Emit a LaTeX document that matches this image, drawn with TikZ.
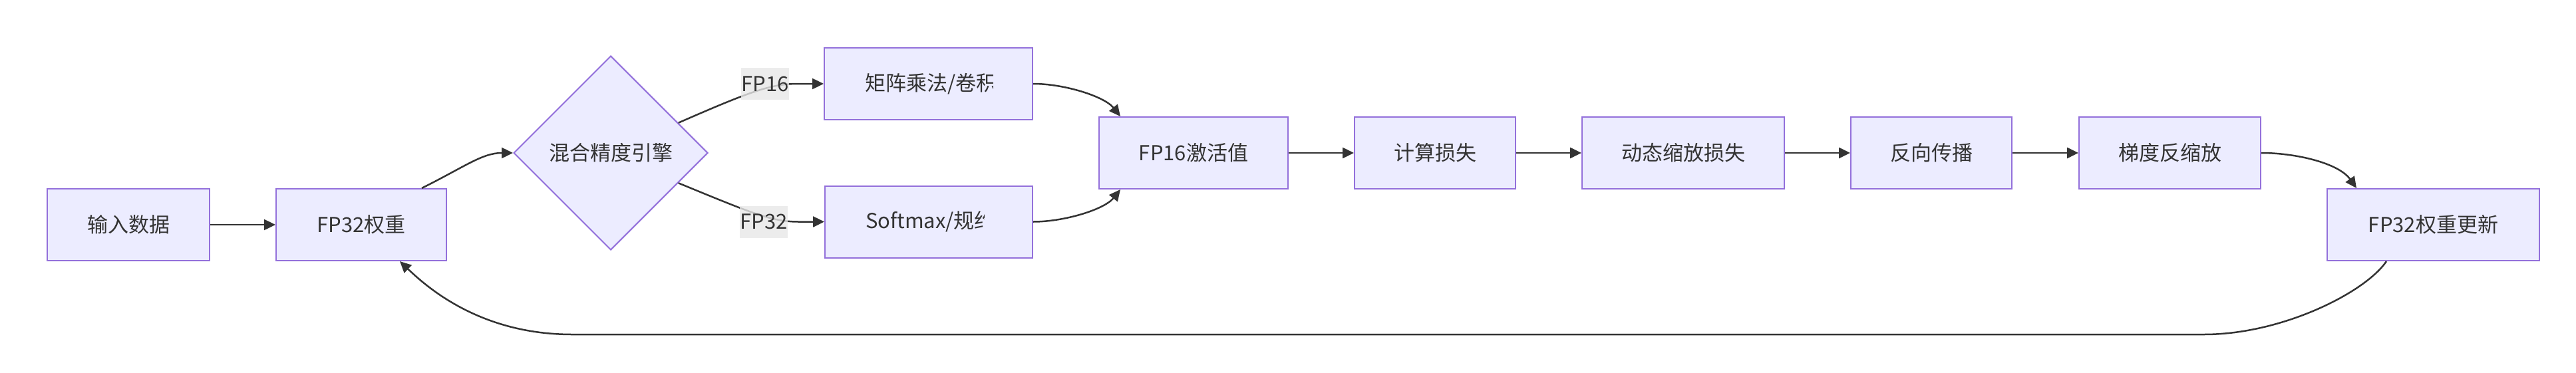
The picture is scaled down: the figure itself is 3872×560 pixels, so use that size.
\documentclass[tikz,border=0pt]{standalone}
\usepackage{fontspec}
\setmainfont{Noto Sans CJK SC}
\usetikzlibrary{arrows.meta,shapes.geometric}
\definecolor{nodefill}{HTML}{ECECFF}
\definecolor{nodeline}{HTML}{9370DB}
\definecolor{edgecol}{HTML}{333333}
\definecolor{labelbg}{HTML}{E8E8E8}
\begin{document}
\begin{tikzpicture}[x=1pt,y=-1pt,
  font=\fontsize{31pt}{37pt}\selectfont, text=edgecol,
  box/.style={draw=nodeline, fill=nodefill, line width=2pt, inner sep=0pt, minimum height=108pt},
  dia/.style={diamond, shape aspect=1, draw=nodeline, fill=nodefill, line width=2pt, inner sep=0pt, minimum width=292pt, minimum height=292pt},
  conn/.style={draw=edgecol, line width=2.5pt, -{Triangle[length=17pt,width=16pt]}},
  elabel/.style={fill=labelbg, fill opacity=0.8, text opacity=1, inner sep=0pt, minimum width=68pt, minimum height=48pt},
  txt/.style={inner sep=0pt, anchor=west}]
\fill[white] (0,0) rectangle (3872,560);
\useasboundingbox (0,0) rectangle (3872,560);

% nodes
\node[box, minimum width=244pt] (A) at (193,338) {输入数据};
\node[box, minimum width=256pt] (B) at (543,338) {FP32权重};
\node[dia] (C) at (918,230) {混合精度引擎};
\node[box, minimum width=313pt] (D) at (1395.5,126) {};
\node[box, minimum width=312pt] (E) at (1396,333.5) {};
\begin{scope}
  \clip (1240,73) rectangle (1492,179);
  \node[txt] (Dt) at (1300,126) {矩阵乘法/卷积};
\end{scope}
\begin{scope}
  \clip (1241,281) rectangle (1479,386);
  \node[txt] (Et) at (1301,333.5) {Softmax/规约};
\end{scope}
\node[box, minimum width=284pt] (F) at (1794,230) {FP16激活值};
\node[box, minimum width=242pt] (G) at (2157,230) {计算损失};
\node[box, minimum width=304pt] (H) at (2530,230) {动态缩放损失};
\node[box, minimum width=242pt] (I) at (2903,230) {反向传播};
\node[box, minimum width=273pt] (J) at (3261.5,230) {梯度反缩放};
\node[box, minimum width=319pt] (K) at (3657.5,338) {FP32权重更新};

% connectors
\draw[conn] (A.east) -- (B.west);
\draw[conn] ([xshift=-38pt]B.north east) .. controls (700,250) and (725,230) .. (C.west);
\draw[conn] (C.24) .. controls (1131,136) and (1160,126) .. (1200,126) -- (D.west);
\draw[conn] (C.-24) .. controls (1131,321) and (1160,333.5) .. (1200,333.5) -- (E.west);
\draw[conn] (D.east) .. controls (1600,126) and (1660,145) .. ([xshift=33pt]F.north west);
\draw[conn] (E.east) .. controls (1600,333.5) and (1660,315) .. ([xshift=33pt]F.south west);
\draw[conn] (F.east) -- (G.west);
\draw[conn] (G.east) -- (H.west);
\draw[conn] (H.east) -- (I.west);
\draw[conn] (I.east) -- (J.west);
\draw[conn] (J.east) .. controls (3450,230) and (3515,245) .. ([xshift=45pt]K.north west);
\coordinate (r1) at (3313,503);
\coordinate (l1) at (860,503);
\draw[conn] ([xshift=90pt]K.south west) .. controls (3555,440) and (3430,503) .. (r1) -- (l1) .. controls (720,503) and (640,430) .. ([xshift=187pt]B.south west);

% edge labels
\node[elabel] (L16) at (1150,126) {FP16};
\node[elabel] (L32) at (1148,333.5) {FP32};
\end{tikzpicture}
\end{document}
